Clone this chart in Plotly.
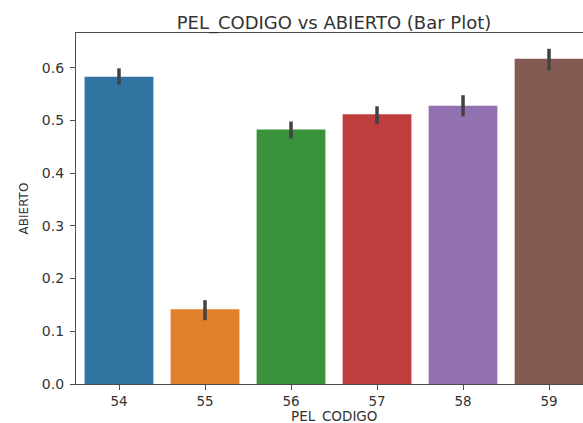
import plotly.graph_objects as go

# Mean ABIERTO per PEL_CODIGO with 95% CI bounds
categories = ["54", "55", "56", "57", "58", "59"]
means = [0.583, 0.142, 0.483, 0.512, 0.528, 0.617]
ci_upper = [0.599, 0.159, 0.498, 0.527, 0.548, 0.636]
ci_lower = [0.568, 0.121, 0.466, 0.493, 0.508, 0.595]
bar_colors = ["#3274a1", "#e1812c", "#3a923a", "#c03d3e", "#9372b2", "#845b53"]

err_plus = [u - m for u, m in zip(ci_upper, means)]
err_minus = [m - l for m, l in zip(means, ci_lower)]

font_family = "DejaVu Sans"

fig = go.Figure(
    go.Bar(
        x=categories,
        y=means,
        width=0.8,
        marker=dict(color=bar_colors, line=dict(width=0)),
        error_y=dict(
            type="data",
            symmetric=False,
            array=err_plus,
            arrayminus=err_minus,
            color="#424242",
            thickness=3.5,
            width=0,
        ),
    )
)

fig.update_layout(
    width=583,
    height=423,
    margin=dict(l=76, r=0, t=33, b=39),
    plot_bgcolor="white",
    paper_bgcolor="white",
    showlegend=False,
    font=dict(family=font_family, size=14, color="#333333"),
    title=dict(
        text="PEL_CODIGO vs ABIERTO (Bar Plot)",
        x=334 / 583,
        xanchor="center",
        xref="container",
        y=1 - 23 / 423,
        yanchor="middle",
        yref="container",
        font=dict(family=font_family, size=18, color="#333333"),
    ),
    # x-axis label, centred on the full axes span
    annotations=[
        dict(
            text="PEL_CODIGO",
            xref="paper",
            yref="paper",
            x=(334 - 76) / 507,
            y=-(416 - 384) / 351,
            xanchor="center",
            yanchor="middle",
            showarrow=False,
            font=dict(family=font_family, size=13.5, color="#333333"),
        )
    ],
)

fig.update_xaxes(
    type="category",
    range=[-0.5, 5.395],
    showline=True,
    mirror=True,
    linecolor="#4d4d4d",
    linewidth=1.2,
    ticks="outside",
    ticklen=5,
    tickcolor="#4d4d4d",
    ticklabelstandoff=0,
    tickfont=dict(size=13.5),
    showgrid=False,
    zeroline=False,
)

fig.update_yaxes(
    range=[0, 0.666],
    tickvals=[0.0, 0.1, 0.2, 0.3, 0.4, 0.5, 0.6],
    tickformat=".1f",
    showline=True,
    mirror=False,
    linecolor="#4d4d4d",
    linewidth=1.2,
    ticks="outside",
    ticklen=5,
    tickcolor="#4d4d4d",
    ticklabelstandoff=3,
    showgrid=False,
    zeroline=False,
    title=dict(text="ABIERTO", standoff=10, font=dict(size=12)),
)

fig.write_html("out.html")
